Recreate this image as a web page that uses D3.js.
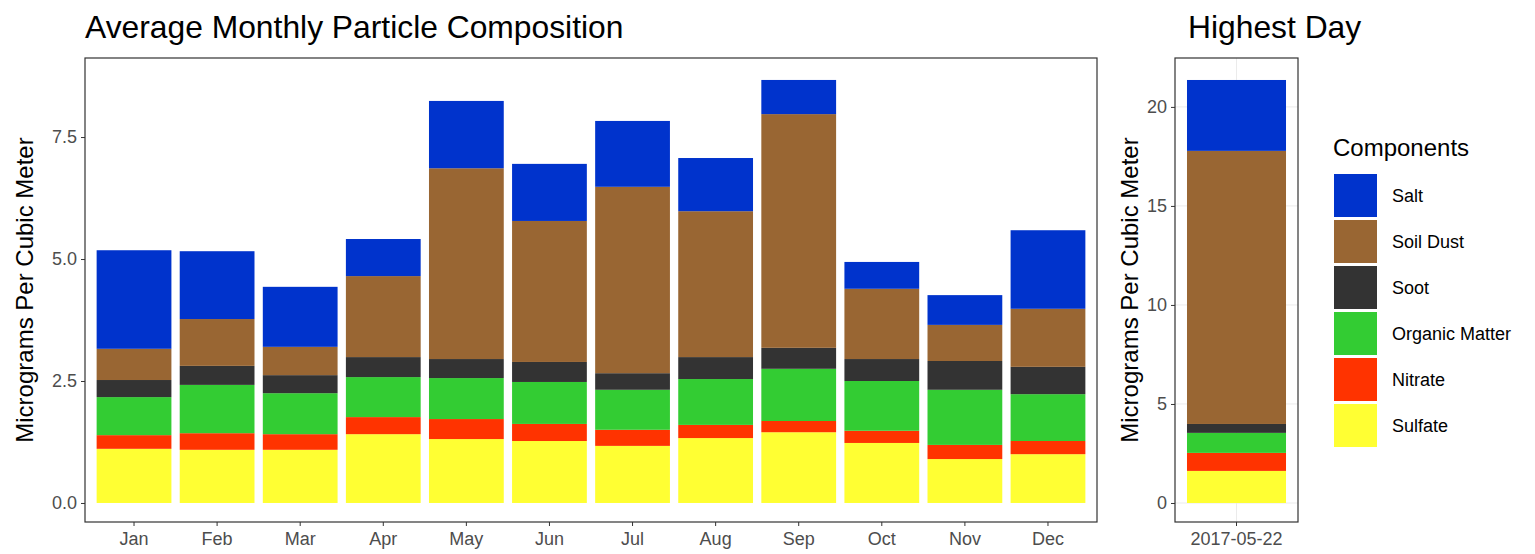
<!DOCTYPE html>
<html><head><meta charset="utf-8">
<script src="https://cdn.jsdelivr.net/npm/d3@7"></script>
<style>body{margin:0;background:#fff}text{font-family:"Liberation Sans",Arial,sans-serif}</style>
</head><body><svg id="c" width="1535" height="554"></svg>
<script>
const months = ["Jan","Feb","Mar","Apr","May","Jun","Jul","Aug","Sep","Oct","Nov","Dec"];
const components = ["Sulfate","Nitrate","Organic Matter","Soot","Soil Dust","Salt"];
const colors = ["#FFFF33","#FF3300","#33CC33","#333333","#996633","#0033CC"];
const sulfate = [1.11,1.09,1.09,1.41,1.31,1.27,1.17,1.33,1.45,1.23,0.90,1.00];
const nitrate = [0.28,0.34,0.32,0.35,0.41,0.35,0.33,0.27,0.23,0.25,0.29,0.27];
const organic = [0.78,0.99,0.84,0.82,0.84,0.86,0.82,0.94,1.07,1.02,1.13,0.96];
const soot    = [0.35,0.39,0.37,0.41,0.39,0.41,0.34,0.45,0.43,0.45,0.59,0.56];
const soil    = [0.64,0.96,0.58,1.66,3.91,2.89,3.82,2.99,4.79,1.44,0.74,1.19];
const salt    = [2.02,1.39,1.23,0.76,1.38,1.17,1.35,1.09,0.70,0.55,0.61,1.61];
const highDay = ["2017-05-22"];
const highValues = [1.62,0.91,1.01,0.45,13.79,3.58];
const leftTicks = [0,2.5,5,7.5];
const rightTicks = [0,5,10,15,20];

const svg = d3.select("#c");
const series = [sulfate,nitrate,organic,soot,soil,salt];
const tickFmt = d => d3.format(".1f")(d);

function panel(x0,x1,y0,y1,cats,stacks,yDom,ticks,fmt,grid,po){
  const x = d3.scaleBand().domain(cats).range([x0,x1]).paddingInner(0.1).paddingOuter(po);
  const y = d3.scaleLinear().domain(yDom).range([y1,y0]);
  const g = svg.append("g");
  if(grid){
    ticks.forEach(t=>g.append("line").attr("x1",x0).attr("x2",x1).attr("y1",y(t)).attr("y2",y(t)).attr("stroke","#ebebeb").attr("stroke-width",1));
    cats.forEach(c=>g.append("line").attr("x1",x(c)+x.bandwidth()/2).attr("x2",x(c)+x.bandwidth()/2).attr("y1",y0).attr("y2",y1).attr("stroke","#ebebeb"));
  }
  cats.forEach((c,i)=>{
    let acc=0;
    stacks.forEach((s,k)=>{
      const v=s[i];
      g.append("rect").attr("x",x(c)).attr("width",x.bandwidth())
        .attr("y",y(acc+v)).attr("height",y(acc)-y(acc+v)).attr("fill",colors[k]);
      acc+=v;
    });
  });
  g.append("rect").attr("x",x0).attr("y",y0).attr("width",x1-x0).attr("height",y1-y0)
    .attr("fill","none").attr("stroke","#333").attr("stroke-width",1.2);
  const ya = svg.append("g").attr("transform",`translate(${x0},0)`)
    .call(d3.axisLeft(y).tickValues(ticks).tickFormat(fmt).tickSize(4).tickPadding(4));
  const xa = svg.append("g").attr("transform",`translate(0,${y1})`)
    .call(d3.axisBottom(x).tickSize(4).tickPadding(6));
  [ya,xa].forEach(a=>{a.select(".domain").remove();
    a.selectAll("line").attr("stroke","#333");
    a.selectAll("text").attr("fill","#4d4d4d").style("font-size","18px").style("font-family","Liberation Sans, Arial");});
}

panel(85,1097,58,522,months,series,[-0.39,9.12],leftTicks,tickFmt,false,0.14);
panel(1175,1298,58,522,highDay,highValues.map(v=>[v]),[-0.96,22.47],rightTicks,d3.format("d"),true,0.109);

svg.append("text").attr("x",85).attr("y",38).style("font-size","31.8px").text("Average Monthly Particle Composition");
svg.append("text").attr("x",1188).attr("y",38).style("font-size","31.8px").text("Highest Day");
svg.append("text").attr("transform","translate(33,290) rotate(-90)").attr("text-anchor","middle").style("font-size","24px").text("Micrograms Per Cubic Meter");
svg.append("text").attr("transform","translate(1138,290) rotate(-90)").attr("text-anchor","middle").style("font-size","24px").text("Micrograms Per Cubic Meter");

const lg = svg.append("g");
lg.append("text").attr("x",1333).attr("y",156).style("font-size","24px").text("Components");
const order = components.slice().reverse();
order.forEach((c,i)=>{
  const k = components.indexOf(c);
  lg.append("rect").attr("x",1334).attr("y",174+i*46).attr("width",43).attr("height",43).attr("fill",colors[k]);
  lg.append("text").attr("x",1392).attr("y",174+i*46+28).style("font-size","18px").text(c);
});
</script></body></html>
